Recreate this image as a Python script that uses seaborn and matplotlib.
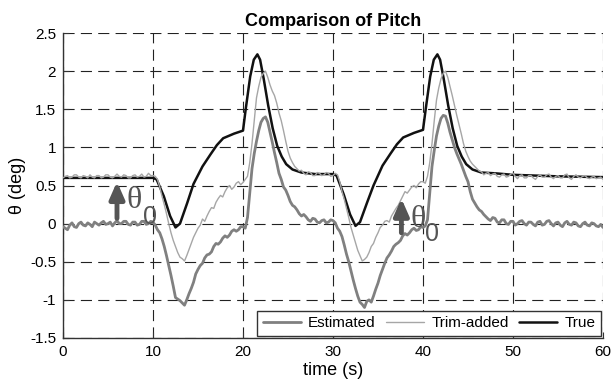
import numpy as np
import pandas as pd
import matplotlib
matplotlib.use("Agg")
import matplotlib.pyplot as plt
import seaborn as sns

# sample grid of the two measured series (every 0.25 s)
t_meas = np.linspace(0, 60, 241)

# one row = 2 s of data
estimated = [
    -0.04, -0.06, -0.08, -0.02, 0.01, -0.04, -0.05, 0.00,
    0.02, -0.02, -0.03, 0.01, -0.01, -0.04, 0.02, 0.00,
    -0.02, 0.01, 0.03, -0.01, 0.00, 0.02, -0.03, 0.01,
    0.04, 0.00, 0.00, 0.03, 0.03, -0.01, -0.02, 0.02,
    0.02, -0.02, -0.01, 0.03, 0.03, -0.01, 0.00, 0.03,
    0.02, -0.02, -0.08, -0.12, -0.20, -0.30, -0.42, -0.55,
    -0.68, -0.82, -0.97, -0.99, -1.01, -1.04, -1.07, -1.00,
    -0.92, -0.85, -0.77, -0.66, -0.60, -0.55, -0.52, -0.45,
    -0.41, -0.40, -0.37, -0.30, -0.26, -0.27, -0.24, -0.19,
    -0.16, -0.18, -0.15, -0.10, -0.08, -0.10, -0.08, -0.04,
    -0.04, -0.06, 0.08, 0.40, 0.72, 0.92, 1.08, 1.22,
    1.33, 1.38, 1.40, 1.33, 1.20, 1.07, 0.93, 0.80,
    0.66, 0.58, 0.48, 0.44, 0.37, 0.29, 0.24, 0.22,
    0.18, 0.13, 0.10, 0.12, 0.09, 0.05, 0.03, 0.07,
    0.06, 0.02, 0.01, 0.04, 0.05, 0.01, 0.02, 0.05,
    0.04, 0.01, -0.06, -0.10, -0.17, -0.28, -0.40, -0.50,
    -0.62, -0.74, -0.85, -0.95, -1.03, -1.06, -1.10, -1.02,
    -1.00, -1.03, -0.95, -0.86, -0.78, -0.68, -0.60, -0.52,
    -0.45, -0.41, -0.36, -0.30, -0.27, -0.25, -0.22, -0.16,
    -0.13, -0.15, -0.12, -0.08, -0.06, -0.09, -0.08, -0.04,
    -0.05, -0.03, 0.05, 0.40, 0.75, 0.96, 1.15, 1.28,
    1.38, 1.42, 1.41, 1.32, 1.20, 1.10, 1.00, 0.92,
    0.85, 0.78, 0.70, 0.62, 0.55, 0.42, 0.32, 0.27,
    0.22, 0.18, 0.16, 0.12, 0.09, 0.06, 0.04, 0.08,
    0.07, 0.02, 0.01, 0.05, 0.05, 0.00, -0.01, 0.03,
    0.03, -0.02, 0.00, 0.03, 0.04, 0.00, -0.02, 0.02,
    0.02, -0.01, -0.03, 0.02, 0.03, -0.02, -0.01, 0.03,
    0.04, 0.00, -0.03, 0.01, 0.02, -0.02, -0.04, 0.01,
    0.03, -0.01, -0.02, 0.02, 0.01, -0.03, -0.04, 0.00,
    0.02, -0.02, -0.03, 0.01, 0.00, -0.03, -0.04, -0.01,
    -0.05,
]

trim_added = [
    0.60, 0.62, 0.63, 0.60, 0.61, 0.64, 0.64, 0.61,
    0.60, 0.63, 0.62, 0.60, 0.64, 0.61, 0.60, 0.63,
    0.63, 0.60, 0.61, 0.64, 0.64, 0.61, 0.60, 0.62,
    0.65, 0.62, 0.61, 0.64, 0.63, 0.60, 0.60, 0.63,
    0.64, 0.61, 0.62, 0.65, 0.61, 0.62, 0.66, 0.63,
    0.63, 0.62, 0.58, 0.48, 0.36, 0.25, 0.13, 0.00,
    -0.12, -0.22, -0.30, -0.38, -0.44, -0.46, -0.49, -0.42,
    -0.34, -0.26, -0.18, -0.12, -0.06, -0.02, 0.06, 0.03,
    0.10, 0.16, 0.21, 0.20, 0.28, 0.33, 0.37, 0.35,
    0.42, 0.47, 0.50, 0.45, 0.48, 0.53, 0.55, 0.51,
    0.54, 0.58, 0.62, 0.80, 1.05, 1.35, 1.65, 1.80,
    1.92, 1.97, 2.00, 1.92, 1.82, 1.74, 1.68, 1.58,
    1.45, 1.35, 1.22, 1.08, 0.95, 0.86, 0.80, 0.75,
    0.72, 0.69, 0.70, 0.66, 0.64, 0.68, 0.67, 0.63,
    0.63, 0.67, 0.66, 0.63, 0.64, 0.67, 0.66, 0.62,
    0.63, 0.66, 0.64, 0.55, 0.42, 0.32, 0.20, 0.08,
    -0.05, -0.15, -0.25, -0.35, -0.42, -0.49, -0.47, -0.44,
    -0.38, -0.30, -0.26, -0.18, -0.12, -0.05, -0.02, 0.03,
    0.04, 0.02, 0.10, 0.15, 0.20, 0.24, 0.30, 0.36,
    0.42, 0.40, 0.44, 0.48, 0.50, 0.47, 0.52, 0.55,
    0.55, 0.53, 0.62, 0.80, 1.05, 1.35, 1.62, 1.78,
    1.90, 1.97, 2.00, 1.92, 1.80, 1.68, 1.55, 1.42,
    1.30, 1.18, 1.05, 0.95, 0.88, 0.82, 0.78, 0.75,
    0.72, 0.69, 0.68, 0.64, 0.66, 0.67, 0.63, 0.65,
    0.66, 0.62, 0.61, 0.64, 0.65, 0.61, 0.62, 0.65,
    0.66, 0.62, 0.59, 0.63, 0.64, 0.60, 0.60, 0.63,
    0.63, 0.60, 0.58, 0.62, 0.64, 0.61, 0.61, 0.64,
    0.65, 0.61, 0.59, 0.62, 0.63, 0.60, 0.60, 0.64,
    0.65, 0.60, 0.58, 0.62, 0.64, 0.61, 0.60, 0.62,
    0.63, 0.60, 0.59, 0.61, 0.62, 0.59, 0.60, 0.61,
    0.58,
]

# true pitch, read at its turning points
t_true = [0, 10, 10.4, 11.2, 11.9, 12.5, 13.0, 13.8, 14.5, 15.5, 16.4, 17.1, 17.8,
          19, 20, 20.3, 20.8, 21.2, 21.6, 21.9, 22.3, 22.8, 23.3, 23.8, 24.3, 24.8,
          25.5, 26.5, 28, 30, 30.4, 31.2, 31.9, 32.5, 33.0, 33.8, 34.5, 35.5, 36.4,
          37.1, 37.8, 39, 40, 40.3, 40.8, 41.2, 41.6, 41.9, 42.3, 42.8, 43.3, 43.8,
          44.3, 44.8, 45.5, 46.5, 48, 50, 55, 60]
true_vals = [0.6, 0.6, 0.58, 0.36, 0.1, -0.05, 0.0, 0.27, 0.52, 0.75, 0.91, 1.03, 1.12,
             1.18, 1.22, 1.5, 1.93, 2.15, 2.22, 2.15, 1.9, 1.55, 1.25, 1.02, 0.88, 0.78,
             0.71, 0.67, 0.65, 0.65, 0.63, 0.38, 0.12, -0.03, 0.02, 0.28, 0.5, 0.76, 0.92,
             1.04, 1.13, 1.19, 1.23, 1.5, 1.93, 2.15, 2.22, 2.15, 1.9, 1.55, 1.25, 1.02,
             0.88, 0.78, 0.71, 0.67, 0.66, 0.64, 0.62, 0.61]

x_ticks = [0, 10, 20, 30, 40, 50, 60]
y_ticks = [-1.5, -1, -0.5, 0, 0.5, 1, 1.5, 2, 2.5]
y_tick_labels = ["-1.5", "-1", "-0.5", "0", "0.5", "1", "1.5", "2", "2.5"]

sns.set_style("ticks")
plt.rcParams["font.family"] = ["Liberation Sans", "DejaVu Sans"]
plt.rcParams["lines.scale_dashes"] = False
plt.rcParams["text.color"] = "black"
plt.rcParams["axes.labelcolor"] = "black"

fig = plt.figure(figsize=(6.11, 3.83), dpi=100)
ax = fig.add_axes([0.1031, 0.1175, 0.8838, 0.7963])

meas = pd.DataFrame({"t": t_meas, "est": estimated, "trim": trim_added})
truth = pd.DataFrame({"t": t_true, "val": true_vals})

sns.lineplot(data=meas, x="t", y="est", ax=ax, color="#808080", lw=2.0,
             estimator=None, sort=False, label="Estimated", zorder=3)
sns.lineplot(data=meas, x="t", y="trim", ax=ax, color="#a6a6a6", lw=1.0,
             estimator=None, sort=False, label="Trim-added", zorder=4)
sns.lineplot(data=truth, x="t", y="val", ax=ax, color="#111111", lw=1.8,
             estimator=None, sort=False, label="True", zorder=3.5)

ax.set_xlim(0, 60)
ax.set_ylim(-1.5, 2.5)
ax.set_xticks(x_ticks)
ax.set_yticks(y_ticks)
ax.set_yticklabels(y_tick_labels)
ax.tick_params(direction="in", length=4, width=0.8, colors="#333333",
               labelcolor="black", labelsize=11, pad=5)
ax.grid(True, color="#222222", lw=0.8, linestyle=(0, (8, 4.5)))
for side in ["top", "right"]:
    ax.spines[side].set_visible(False)
for side in ["left", "bottom"]:
    ax.spines[side].set_color("#333333")
    ax.spines[side].set_linewidth(1.0)

ax.set_title("Comparison of Pitch", fontsize=13, fontweight="bold", pad=5, color="black")
ax.set_xlabel("time (s)", fontsize=13, labelpad=2)
ax.set_ylabel("\u03b8 (deg)", fontsize=13, labelpad=3)

# theta_0 offset arrows
arrow_color = "#555555"
for x0, y_from, y_to, tx, ty, sx, sy in [(6.0, 0.07, 0.55, 7.9, 0.30, 9.7, 0.09),
                                          (37.6, -0.12, 0.33, 39.5, 0.05, 41.0, -0.13)]:
    ax.annotate("", xy=(x0, y_to), xytext=(x0, y_from),
                arrowprops=dict(arrowstyle="-|>,head_width=0.22,head_length=0.5",
                                lw=3.5, color=arrow_color, mutation_scale=20,
                                shrinkA=0, shrinkB=0), zorder=5)
    ax.text(tx, ty, "\u03b8", fontsize=23, color=arrow_color, ha="center", va="center",
            family=["Liberation Serif", "DejaVu Serif"], zorder=5)
    ax.text(sx, sy, "0", fontsize=18, color=arrow_color, ha="center", va="center", zorder=5)

leg = ax.legend(loc="lower right", ncol=3, fontsize=11, frameon=True, fancybox=False,
                framealpha=1, edgecolor="#333333", borderaxespad=0.15,
                handlelength=2.5, handletextpad=0.45, columnspacing=0.7,
                borderpad=0.35)
leg.get_frame().set_linewidth(1.0)
for txt in leg.get_texts():
    txt.set_color("black")

fig.savefig("out.png", dpi=100)
